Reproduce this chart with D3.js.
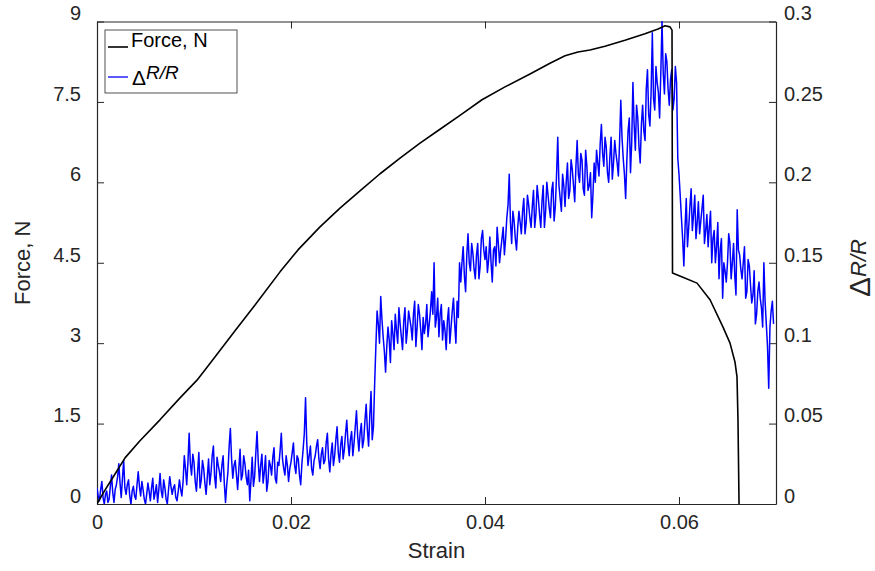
<!DOCTYPE html>
<html lang="en">
<head>
<meta charset="UTF-8">
<title>Force and resistance change vs strain</title>
<script src="https://d3js.org/d3.v7.min.js"></script>
<style>
  body { margin: 0; background: #fff; }
  svg { display: block; font-family: Arial, "Liberation Sans", sans-serif; }
  .axis text { fill: #262626; font-size: 20px; }
  .axis line, .axis path { stroke: #262626; }
</style>
</head>
<body>
<svg width="875" height="571"></svg>
<script>
// force curve (left axis)
const forceStrain = [0, .00021, .00082, .00186, .00289, .00443, .00649, .00856, .01031, .01216,
  .01423, .01629, .01887, .02072, .02299, .02505, .02711, .02918, .03124, .0333,
  .03536, .03742, .03969, .04206, .04464, .0467, .04825, .04959, .05082, .05237,
  .05443, .05649, .05784, .05856, .05907, .05928, .05933, .0604, .06186, .0632,
  .06454, .06526, .06577, .06598, .06608, .06619];
const forceValues = [0, .07, .26, .56, .86, 1.18, 1.57, 1.98, 2.31, 2.74,
  3.23, 3.71, 4.33, 4.74, 5.17, 5.52, 5.84, 6.16, 6.45, 6.73,
  6.99, 7.25, 7.54, 7.78, 8.02, 8.22, 8.36, 8.43, 8.47, 8.54,
  8.65, 8.77, 8.86, 8.92, 8.90, 8.84, 4.31, 4.23, 4.12, 3.81,
  3.30, 3.00, 2.65, 2.37, 1.57, 0];

// delta R / R (right axis), sampled every 0.000125 strain from 0, in thousandths
const drStep = 0.000125;
const drMilli = [
  10,5,2,9,14,4,0,6,8,1,3,11,18,7,1,9,12,17,25,13,4,16,27,10,6,12,15,5,0,8,11,5,3,12,20,11,5,14,9,3,
  0,6,13,8,2,10,16,3,7,12,1,9,19,8,4,15,10,3,0,9,17,11,6,10,12,4,2,8,15,9,5,14,
  30,22,12,26,44,25,18,31,26,14,8,20,32,10,15,27,22,13,6,17,28,12,19,30,36,17,10,29,24,20,14,24,
  30,13,1,12,20,36,47,28,16,24,27,18,9,22,34,15,18,30,25,17,12,21,2,15,29,11,17,32,45,26,14,24,
  31,13,20,30,8,14,27,24,18,29,35,16,13,26,24,33,44,28,
  22,18,30,24,14,22,26,32,38,24,19,30,28,18,12,25,34,44,66,38,24,30,36,22,18,27,30,36,40,28,22,31,
  35,25,27,38,44,28,20,31,38,24,30,40,48,32,26,37,42,28,34,44,52,38,30,40,45,30,38,48,58,42,33,44,
  50,35,40,52,62,46,36,55,70,40,48,75,
  98,120,112,100,129,115,104,95,82,98,110,102,88,114,106,96,118,108,100,122,112,104,96,114,122,100,
  108,120,115,110,102,118,126,98,110,124,118,108,96,116,106,112,124,104,112,120,132,118,150,110,
  116,128,104,118,124,102,114,108,96,114,122,100,110,120,128,112,100,126,116,150,
  138,150,160,142,132,155,168,150,145,162,156,146,140,155,162,140,148,165,170,158,152,160,144,152,
  166,150,138,158,160,148,172,162,150,158,165,172,155,165,178,186,205,175,162,182,176,165,158,172,
  182,175,168,182,190,168,175,192,186,178,172,185,195,172,180,198,190,180,172,188,198,172,182,200,
  192,184,178,195,200,176,185,204,228,198,190,182,
  205,198,185,200,212,190,195,214,208,198,188,210,226,205,200,218,214,196,192,220,210,195,198,206,
  178,192,212,200,220,212,204,224,236,218,210,228,222,206,200,216,228,202,212,226,218,212,204,225,
  251,228,
  215,205,190,214,232,240,206,225,262,236,220,248,240,222,212,236,248,232,226,258,270,242,235,256,
  293,252,245,272,262,256,240,268,
  300,268,255,280,275,258,248,264,270,245,252,272,262,215,
  205,192,178,165,148,172,190,160,172,185,196,170,180,192,165,175,188,168,176,184,192,162,170,180,
  160,172,182,150,165,170,150,160,175,140,158,165,128,150,145,138,150,168,162,140,150,162,142,130,
  183,158,155,146,140,150,160,128,132,152,148,136,125,130,145,112,118,132,138,128,122,110,150,126,
  112,98,72,110,120,126,112
];

const xTicks = [0, 0.02, 0.04, 0.06];
const xTickLabels = ["0", "0.02", "0.04", "0.06"];
const forceTicks = [0, 1.5, 3, 4.5, 6, 7.5, 9];
const forceTickLabels = ["0", "1.5", "3", "4.5", "6", "7.5", "9"];
const drTicks = [0, 0.05, 0.1, 0.15, 0.2, 0.25, 0.3];
const drTickLabels = ["0", "0.05", "0.1", "0.15", "0.2", "0.25", "0.3"];

const svg = d3.select("svg");
const m = { left: 97, right: 776, top: 21.5, bottom: 504 };

const x = d3.scaleLinear().domain([0, 0.07]).range([m.left, m.right]);
const yF = d3.scaleLinear().domain([0, 9]).range([m.bottom, m.top]);
const yR = d3.scaleLinear().domain([0, 0.3]).range([m.bottom, m.top]);

svg.append("clipPath").attr("id", "plot")
  .append("rect").attr("x", m.left).attr("y", m.top - 1)
  .attr("width", m.right - m.left).attr("height", m.bottom - m.top + 1);

// axes
svg.append("g").attr("class", "axis")
  .attr("transform", `translate(0,${m.bottom})`)
  .call(d3.axisBottom(x).tickValues(xTicks).tickSize(-7).tickSizeOuter(0).tickPadding(11)
    .tickFormat((d, i) => xTickLabels[i]));

svg.append("g").attr("class", "axis")
  .attr("transform", `translate(0,${m.top})`)
  .call(d3.axisTop(x).tickValues(xTicks).tickSize(-7).tickSizeOuter(0).tickFormat(""));

const gl = svg.append("g").attr("class", "axis")
  .attr("transform", `translate(${m.left},0)`)
  .call(d3.axisLeft(yF).tickValues(forceTicks).tickSize(-7).tickSizeOuter(0).tickPadding(16)
    .tickFormat((d, i) => forceTickLabels[i]));
gl.selectAll("text").attr("dy", "-0.08em");

const gr = svg.append("g").attr("class", "axis")
  .attr("transform", `translate(${m.right},0)`)
  .call(d3.axisRight(yR).tickValues(drTicks).tickSize(-7).tickSizeOuter(0).tickPadding(8)
    .tickFormat((d, i) => drTickLabels[i]));
gr.selectAll("text").attr("dy", "-0.08em");

svg.selectAll(".axis path").attr("stroke-width", 1.2);

// series
const plot = svg.append("g").attr("clip-path", "url(#plot)");

plot.append("path")
  .datum(drMilli)
  .attr("fill", "none")
  .attr("stroke", "#0000ff")
  .attr("stroke-width", 1.5)
  .attr("stroke-linejoin", "round")
  .attr("d", d3.line().x((d, i) => x(i * drStep)).y(d => yR(d / 1000)));

plot.append("path")
  .datum(forceStrain.map((s, i) => [s, forceValues[i]]))
  .attr("fill", "none")
  .attr("stroke", "#000")
  .attr("stroke-width", 1.6)
  .attr("stroke-linejoin", "round")
  .attr("d", d3.line().x(d => x(d[0])).y(d => yF(d[1])));

// axis titles
svg.append("text")
  .attr("x", (m.left + m.right) / 2).attr("y", 558)
  .attr("text-anchor", "middle").attr("fill", "#262626").attr("font-size", 22)
  .text("Strain");

svg.append("text")
  .attr("transform", `translate(30,${(m.top + m.bottom) / 2}) rotate(-90)`)
  .attr("text-anchor", "middle").attr("fill", "#262626").attr("font-size", 22)
  .text("Force, N");

const rt = svg.append("text")
  .attr("transform", `translate(870,268) rotate(-90)`)
  .attr("text-anchor", "middle").attr("fill", "#262626");
rt.append("tspan").attr("font-size", 30).text("Δ");
rt.append("tspan").attr("font-size", 22).attr("font-style", "italic").attr("dy", -4).text("R/R");

// legend
const lg = svg.append("g");
lg.append("rect")
  .attr("x", 105).attr("y", 30).attr("width", 132).attr("height", 63)
  .attr("fill", "#fff").attr("stroke", "#262626").attr("stroke-width", 0.8);
lg.append("line").attr("x1", 108).attr("x2", 128).attr("y1", 47).attr("y2", 47)
  .attr("stroke", "#000").attr("stroke-width", 1.6);
lg.append("text").attr("x", 131).attr("y", 47).attr("font-size", 20).attr("fill", "#000")
  .text("Force, N");
lg.append("line").attr("x1", 108).attr("x2", 128).attr("y1", 77).attr("y2", 77)
  .attr("stroke", "#0000ff").attr("stroke-width", 1.3);
const lt = lg.append("text").attr("x", 132).attr("y", 85).attr("fill", "#000");
lt.append("tspan").attr("font-size", 21).text("Δ");
lt.append("tspan").attr("font-size", 19).attr("font-style", "italic").attr("dy", -6).text("R/R");
</script>
</body>
</html>
